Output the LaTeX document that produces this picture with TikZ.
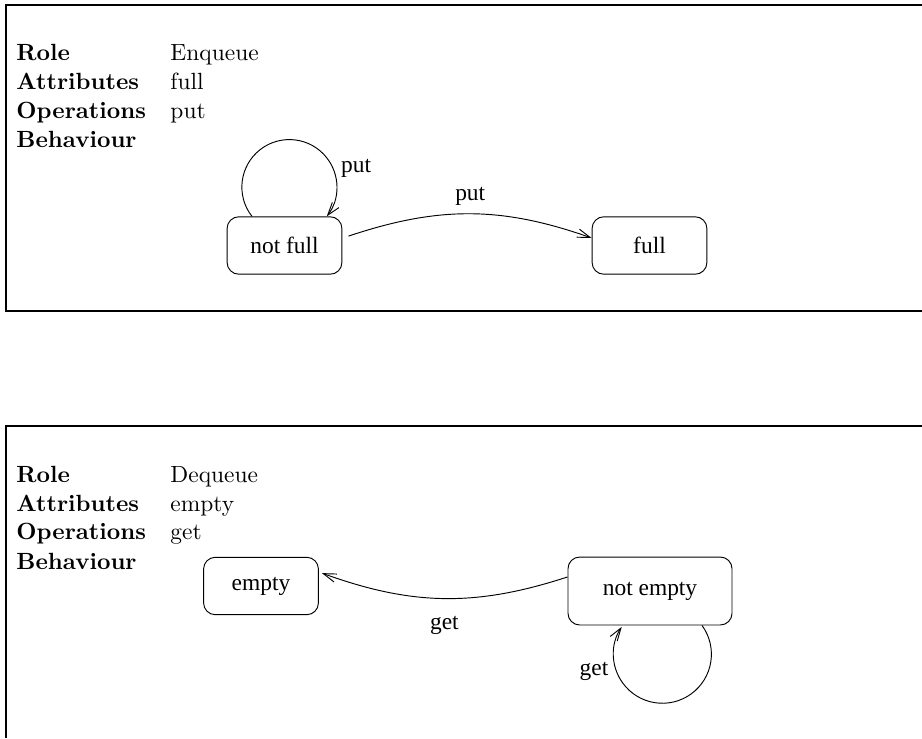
\documentclass[tikz,border=0pt]{standalone}
\usepackage{fontspec}
\newfontfamily\figfont{Liberation Serif}
\usetikzlibrary{arrows.meta}
\usetikzlibrary{positioning}
\newcommand{\mKey}[1]{\textbf{#1}}
\newcommand{\field}[3]{\node[spec] (#1) at (16,#2) {\mKey{#3}}}
\newcommand{\fval}[3]{\node[spec] (#1) at (170,#2) {#3}}

\begin{document}
\begin{tikzpicture}[x=0.015cm,y=0.015cm,
    spec/.style={anchor=base west,inner sep=0pt},
    statebox/.style={draw,rounded corners=5pt,minimum width=49pt,minimum height=24.5pt,font=\figfont},
    lbl/.style={font=\figfont},
    >={Straight Barb[length=5.5pt,width=3.6pt]}]
    \useasboundingbox (0,0) rectangle (922,-738);
    % Enqueue
    \draw [line width=0.9pt] (922,-5) -- (6,-5) -- (6,-311) -- (922,-311);
    \field{enqRole}{-61}{Role};
    \fval{enqName}{-61}{Enqueue};
    \field{enqAttr}{-90}{Attributes};
    \fval{enqAttrV}{-90}{full};
    \field{enqOps}{-119}{Operations};
    \fval{enqOpsV}{-119}{put};
    \field{enqBeh}{-148}{Behaviour};
    \node[statebox] (notfull) at (284.5,-245.5) {not full};
    \node[statebox] (full) at (649.5,-245.5) {full};
    \draw[->] ([xshift=-13.9pt]notfull.north) arc[start angle=218,end angle=-38,radius=47.5]
      node[lbl,pos=0.76,right]{put};
    \draw[->] ([xshift=2.6pt,yshift=4pt]notfull.east) to[bend left=19]
      node[lbl,above]{put} ([yshift=3.2pt]full.west);
    % Dequeue
    \draw [line width=0.9pt] (922,-426) -- (6,-426) -- (6,-738);
    \field{deqRole}{-482}{Role};
    \fval{deqName}{-482}{Dequeue};
    \field{deqAttr}{-511}{Attributes};
    \fval{deqAttrV}{-511}{empty};
    \field{deqOps}{-539}{Operations};
    \fval{deqOpsV}{-539}{get};
    \field{deqBeh}{-569}{Behaviour};
    \node[statebox] (empty) at (261,-586) {empty};
    \node[statebox,minimum width=70pt,minimum height=29pt] (notempty) at (650,-591) {not empty};
    \draw[->] ([yshift=6pt]notempty.west) to[bend left=19]
      node[lbl,below=4pt]{get} ([xshift=1.3pt,yshift=5.5pt]empty.east);
    \draw[->] ([xshift=22.2pt]notempty.south) arc[start angle=36,end angle=-214,radius=49]
      node[lbl,pos=0.78,left]{get};
\end{tikzpicture}
\end{document}
